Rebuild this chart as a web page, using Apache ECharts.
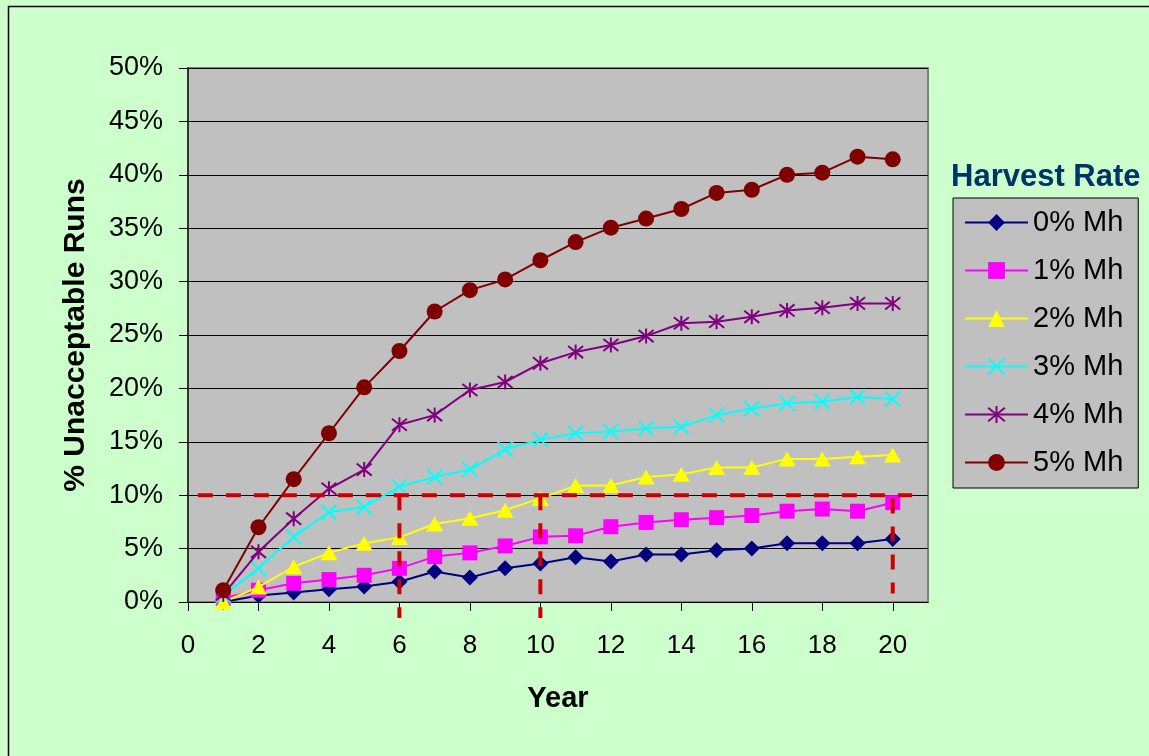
<!DOCTYPE html>
<html>
<head>
<meta charset="utf-8">
<script src="https://cdn.jsdelivr.net/npm/echarts@6/dist/echarts.min.js"></script>
<style>
html,body{margin:0;padding:0;background:#CCFFCC;}
#chart{width:1149px;height:756px;}
</style>
</head>
<body>
<div id="chart"></div>
<script>
var years = [1,2,3,4,5,6,7,8,9,10,11,12,13,14,15,16,17,18,19,20];
var mh0 = [0.0,0.6,0.9,1.2,1.45,1.9,2.85,2.3,3.15,3.6,4.2,3.8,4.45,4.45,4.85,5.0,5.5,5.5,5.5,5.9];
var mh1 = [0.35,1.1,1.75,2.1,2.5,3.15,4.25,4.6,5.25,6.1,6.2,7.05,7.45,7.7,7.9,8.1,8.5,8.7,8.5,9.3];
var mh2 = [0.0,1.4,3.3,4.6,5.5,6.05,7.3,7.85,8.6,9.7,10.9,10.9,11.7,11.95,12.6,12.6,13.4,13.4,13.6,13.76];
var mh3 = [0.6,3.15,6.1,8.4,8.9,10.8,11.7,12.4,14.3,15.2,15.8,15.95,16.26,16.4,17.5,18.1,18.6,18.75,19.2,19.0];
var mh4 = [0.7,4.7,7.8,10.6,12.4,16.6,17.5,19.85,20.6,22.35,23.4,24.06,24.9,26.1,26.25,26.7,27.3,27.55,27.96,27.96];
var mh5 = [1.1,7.0,11.5,15.8,20.1,23.5,27.2,29.2,30.2,32.0,33.7,35.05,35.9,36.8,38.3,38.6,40.0,40.2,41.7,41.45];
var seriesNames = ['0% Mh','1% Mh','2% Mh','3% Mh','4% Mh','5% Mh'];
var xTicks = [0,2,4,6,8,10,12,14,16,18,20];
// threshold reference lines [x, y] pairs
var refHoriz = [[0.28,10],[20.55,10]];
var refV6 = [[6,10],[6,-1.5]];
var refV10 = [[10,10],[10,-1.5]];
var refV20 = [[20,9.7],[20,0.8]];

function pairs(vals){ return years.map(function(y,i){ return [y, vals[i]]; }); }

var FONT = 'Arial, "Liberation Sans", sans-serif';
var xPath = 'path://M0,0L10,10M10,0L0,10';
var starPath = 'path://M0,0L10,10M10,0L0,10M5,-1.2L5,11.2';

var styles = [
  {c:'#000080', sym:'diamond', size:16},
  {c:'#FF00FF', sym:'rect', size:15},
  {c:'#FFFF00', sym:'triangle', size:[17,15]},
  {c:'#00FFFF', sym:xPath, size:15, stroke:true},
  {c:'#800080', sym:starPath, size:15, stroke:true},
  {c:'#800000', sym:'circle', size:16}
];
var allVals = [mh0,mh1,mh2,mh3,mh4,mh5];

var series = allVals.map(function(v,i){
  var s = styles[i];
  var item = {color:s.c};
  if (s.stroke) { item.borderColor = s.c; item.borderWidth = 2; }
  return {
    name: seriesNames[i], type:'line', data: pairs(v),
    symbol: s.sym, symbolSize: s.size, showAllSymbol:true,
    lineStyle:{color:s.c, width:2},
    itemStyle: item,
    emphasis:{disabled:true}, animation:false, z: 2+i
  };
});
[refHoriz, refV6, refV10, refV20].forEach(function(d,i){
  series.push({
    name:'ref'+i, type:'line', data:d, symbol:'none', clip:false, silent:true,
    lineStyle:{color:'#CC0000', width:4, type:[15,13]},
    animation:false, z:20
  });
});

var chart = echarts.init(document.getElementById('chart'), null, {renderer:'canvas'});
chart.setOption({
  backgroundColor:'#CCFFCC',
  animation:false,
  textStyle:{fontFamily:FONT},
  title:{
    text:'Harvest Rate', left:946, top:157,
    textStyle:{fontSize:31, fontWeight:'bold', color:'#003366', fontFamily:FONT}
  },
  graphic:[{
    type:'rect', shape:{x:8.5,y:6.5,width:1200,height:800},
    style:{fill:'none', stroke:'#000', lineWidth:1.5}, silent:true, z:-1
  }],
  legend:{
    data: seriesNames, orient:'vertical', left:953, top:198,
    padding:[10,15,11,11], itemGap:19, itemWidth:63, itemHeight:21,
    backgroundColor:'#C0C0C0', borderColor:'#000', borderWidth:1, borderRadius:0,
    textStyle:{fontSize:29, color:'#000', fontFamily:FONT},
    selectedMode:false
  },
  grid:{
    left:188, top:68, right:221, bottom:154, show:true,
    backgroundColor:'#C0C0C0', borderColor:'#808080', borderWidth:2
  },
  xAxis:{
    type:'value', min:0, max:21, interval:2,
    name:'Year', nameLocation:'middle', nameGap:82,
    nameTextStyle:{fontSize:29, fontWeight:'bold', color:'#000', fontFamily:FONT},
    axisLine:{show:true, onZero:false, lineStyle:{color:'#000', width:1}},
    axisTick:{show:true, inside:false, length:9, lineStyle:{color:'#000'}, customValues:xTicks},
    axisLabel:{fontSize:26, color:'#000', margin:31, customValues:xTicks, fontFamily:FONT},
    splitLine:{show:false}
  },
  yAxis:{
    type:'value', min:0, max:50, interval:5,
    name:'% Unacceptable Runs', nameLocation:'middle', nameGap:97,
    nameTextStyle:{fontSize:30, fontWeight:'bold', color:'#000', fontFamily:FONT},
    axisLine:{show:true, lineStyle:{color:'#333', width:2}},
    axisTick:{show:true, inside:false, length:9, lineStyle:{color:'#000'}},
    axisLabel:{fontSize:27, color:'#000', margin:25, formatter:'{value}%', fontFamily:FONT},
    splitLine:{show:true, lineStyle:{color:'#000', width:1}}
  },
  series: series
});
</script>
</body>
</html>
